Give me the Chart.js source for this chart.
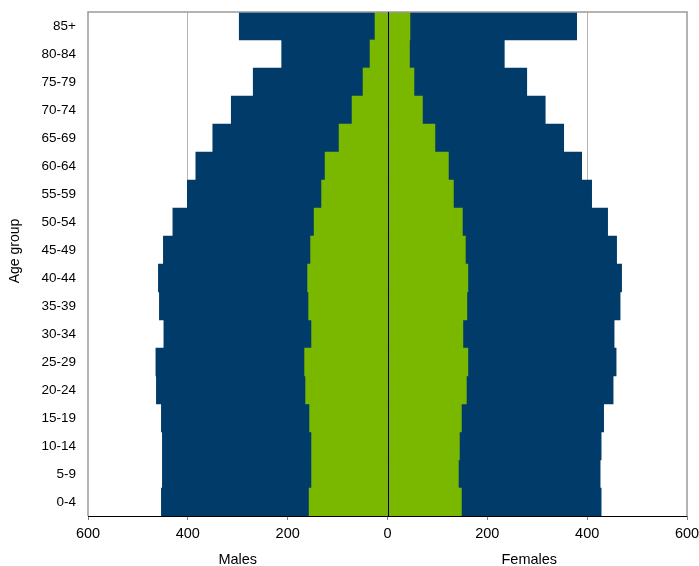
<!DOCTYPE html>
<html>
<head>
<meta charset="utf-8">
<script src="https://cdn.jsdelivr.net/npm/chart.js@4/dist/chart.umd.min.js"></script>
<style>
  html, body { margin: 0; padding: 0; background: #fff; }
  #wrap { width: 699px; height: 566px; position: relative; }
</style>
</head>
<body>
<div id="wrap"><canvas id="c" width="699" height="566"></canvas></div>
<script>
// Age groups, bottom (youngest) to top (oldest)
const ageGroups = ['0-4','5-9','10-14','15-19','20-24','25-29','30-34','35-39','40-44','45-49','50-54','55-59','60-64','65-69','70-74','75-79','80-84','85+'];
// Outer (dark blue) bars
const malesBlue   = [453, 451, 451, 453, 463, 464, 448, 457, 459, 449, 430, 401, 384, 350, 313, 269, 212, 297];
const femalesBlue = [428, 426, 428, 433, 452, 458, 454, 466, 469, 459, 441, 409, 389, 353, 316, 279, 234, 379];
// Inner (green) bars
const malesGreen   = [157, 152, 152, 156, 164, 166, 152, 158, 160, 154, 147, 132, 125, 97, 71, 49, 35, 25];
const femalesGreen = [148, 142, 144, 148, 158, 161, 151, 159, 161, 156, 150, 132, 122, 95, 70, 53, 44, 45];
// Axis tick values
const xTicks = [-600, -400, -200, 0, 200, 400, 600];
const xTitleLeft = 'Males';
const xTitleRight = 'Females';
const yTitle = 'Age group';

const BLUE = '#003B69';
const GREEN = '#7AB800';
const FONT = '"Liberation Sans", Arial, sans-serif';

const framePlugin = {
  id: 'frame',
  afterDatasetsDraw(chart) {
    const { ctx, chartArea: a, scales: { x } } = chart;
    ctx.save();
    ctx.strokeStyle = '#9a9a9a';
    ctx.lineWidth = 1.5;
    ctx.beginPath();
    ctx.moveTo(a.left, a.bottom);
    ctx.lineTo(a.left, a.top);
    ctx.lineTo(a.right, a.top);
    ctx.lineTo(a.right, a.bottom);
    ctx.stroke();
    ctx.strokeStyle = '#000';
    ctx.lineWidth = 1;
    ctx.beginPath();
    ctx.moveTo(a.left, Math.round(a.bottom) + 0.5);
    ctx.lineTo(a.right, Math.round(a.bottom) + 0.5);
    ctx.stroke();
    const x0 = Math.round(x.getPixelForValue(0)) + 0.5;
    ctx.beginPath();
    ctx.moveTo(x0, a.top);
    ctx.lineTo(x0, a.bottom);
    ctx.stroke();
    ctx.restore();
  },
  afterDraw(chart) {
    const { ctx, chartArea: a, scales: { x } } = chart;
    ctx.save();
    ctx.fillStyle = '#000';
    ctx.font = '14.5px ' + FONT;
    ctx.textAlign = 'center';
    ctx.textBaseline = 'middle';
    ctx.fillText(xTitleLeft, x.getPixelForValue(-300), 560);
    ctx.fillText(xTitleRight, x.getPixelForValue(284), 560);
    ctx.font = '14px ' + FONT;
    ctx.translate(15, (a.top + a.bottom) / 2 - 13);
    ctx.rotate(-Math.PI / 2);
    ctx.fillText(yTitle, 0, 0);
    ctx.restore();
  }
};

new Chart(document.getElementById('c'), {
  type: 'bar',
  data: {
    labels: ageGroups,
    datasets: [
      { label: 'Males (green)', data: malesGreen.map(v => -v), backgroundColor: GREEN, order: 0 },
      { label: 'Females (green)', data: femalesGreen, backgroundColor: GREEN, order: 0 },
      { label: 'Males', data: malesBlue.map(v => -v), backgroundColor: BLUE, order: 1 },
      { label: 'Females', data: femalesBlue, backgroundColor: BLUE, order: 1 }
    ]
  },
  options: {
    indexAxis: 'y',
    responsive: false,
    animation: false,
    devicePixelRatio: 1,
    layout: { padding: { top: 12, right: 12, left: 0, bottom: 0 } },
    datasets: { bar: { grouped: false, barPercentage: 1, categoryPercentage: 1, borderWidth: 0 } },
    plugins: { legend: { display: false }, tooltip: { enabled: false } },
    scales: {
      x: {
        type: 'linear',
        min: -600, max: 600,
        afterBuildTicks(s) { s.ticks = xTicks.map(v => ({ value: v })); },
        afterFit(s) { s.height = 50; s.paddingLeft = 0; s.paddingRight = 0; },
        ticks: {
          callback: v => String(Math.abs(v)),
          font: { family: FONT, size: 14.5 },
          color: '#000',
          padding: 5,
          maxRotation: 0
        },
        grid: {
          color: c => (Math.abs(c.tick.value) === 400 || Math.abs(c.tick.value) === 200) ? '#b5b5b5' : 'rgba(0,0,0,0)',
          tickColor: '#7f7f7f',
          tickLength: 4,
          drawTicks: true
        },
        border: { display: false }
      },
      y: {
        reverse: true,
        afterFit(s) { s.width = 88; s.paddingTop = 0; s.paddingBottom = 0; },
        ticks: {
          font: { family: FONT, size: 13.5 },
          color: '#000',
          padding: 12
        },
        grid: { display: false, drawTicks: false },
        border: { display: false }
      }
    }
  },
  plugins: [framePlugin]
});
</script>
</body>
</html>
